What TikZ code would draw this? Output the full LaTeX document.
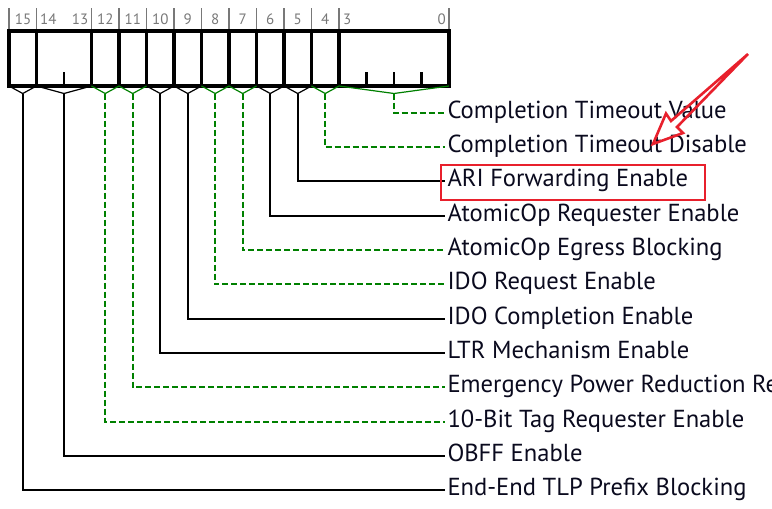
\documentclass[tikz,border=0pt]{standalone}
\usepackage{fontspec}
\setmainfont{PT Sans}
\definecolor{dgreen}{RGB}{0,128,0}
\definecolor{hlred}{RGB}{232,32,44}
\definecolor{numgray}{RGB}{120,120,120}
\definecolor{lbltext}{RGB}{10,10,30}
\begin{document}
\begin{tikzpicture}[x=1pt,y=-1pt,
  fieldbox/.style={draw=black,line width=3.2pt,inner sep=0pt,outer sep=0pt,minimum height=55pt},
  vblack/.style={draw=black,line width=1.2pt},
  vgreen/.style={draw=dgreen,line width=1.2pt},
  conblack/.style={draw=black,line width=2pt},
  congreen/.style={draw=dgreen,line width=2pt,dash pattern=on 6pt off 3pt},
  lbl/.style={anchor=base west,inner sep=0pt,outer xsep=2.5pt,font=\fontsize{24.6}{28}\selectfont,text=lbltext},
  bitnum/.style={anchor=base,inner sep=0pt,font=\fontsize{15}{17}\selectfont,text=numgray},
  sep/.style={draw=numgray,line width=1.6pt},
  tick/.style={draw=black,line width=2.2pt},
  redbox/.style={draw=hlred,line width=2.2pt,inner sep=0pt,minimum width=264pt,minimum height=35pt}
]
\useasboundingbox (0,0) rectangle (772,509);
% fields
\foreach \n/\l/\r in {15/9/36.5,14/36.5/91.5,12/91.5/119,11/119/146.5,10/146.5/174,9/174/201.5,8/201.5/229,7/229/256.5,6/256.5/284,5/284/311.5,4/311.5/339,3/339/449}{
  \pgfmathsetmacro\w{\r-\l}
  \pgfmathsetmacro\c{(\r+\l)/2}
  \node[fieldbox,minimum width=\w pt] (f\n) at (\c,58.5) {};
  \coordinate (v\n) at (\c,93.5);
}
% inner ticks
\foreach \x in {64,366.5,394,421.5}{
  \draw[tick] (\x,72) -- (\x,86);
}
% separators on top
\foreach \x in {9,36.5,91.5,119,146.5,174,201.5,229,256.5,284,311.5,339,449}{
  \draw[sep] (\x,8) -- (\x,29);
}
% bit numbers
\node[bitnum] (n15) at (23,24) {15};
\node[bitnum,anchor=base west] (n14) at (40,24) {14};
\node[bitnum,anchor=base east] (n13) at (88.5,24) {13};
\node[bitnum] (n12) at (105.25,24) {12};
\node[bitnum] (n11) at (132.75,24) {11};
\node[bitnum] (n10) at (160.25,24) {10};
\node[bitnum] (n9) at (187.75,24) {9};
\node[bitnum] (n8) at (215.25,24) {8};
\node[bitnum] (n7) at (242.75,24) {7};
\node[bitnum] (n6) at (270.25,24) {6};
\node[bitnum] (n5) at (297.75,24) {5};
\node[bitnum] (n4) at (325.25,24) {4};
\node[bitnum,anchor=base west] (n3) at (343,24) {3};
\node[bitnum,anchor=base east] (n0) at (446,24) {0};
% labels (baseline 5.5 below the connector row)
\node[lbl] (l3) at (445,118.3) {Completion Timeout Value};
\node[lbl] (l4) at (445,152.6) {Completion Timeout Disable};
\node[lbl] (l5) at (445,186.9) {ARI Forwarding Enable};
\node[lbl] (l6) at (445,221.2) {AtomicOp Requester Enable};
\node[lbl] (l7) at (445,255.5) {AtomicOp Egress Blocking};
\node[lbl] (l8) at (445,289.8) {IDO Request Enable};
\node[lbl] (l9) at (445,324.1) {IDO Completion Enable};
\node[lbl] (l10) at (445,358.4) {LTR Mechanism Enable};
\node[lbl] (l11) at (445,392.7) {Emergency Power Reduction Re};
\node[lbl] (l12) at (445,427) {10-Bit Tag Requester Enable};
\node[lbl] (l14) at (445,461.3) {OBFF Enable};
\node[lbl] (l15) at (445,495.6) {End-End TLP Prefix Blocking};
% V shapes and connectors
\foreach \n in {15,14,10,9,6,5}{
  \draw[vblack] (f\n.south west) -- (v\n) -- (f\n.south east);
  \draw[conblack] (v\n) |- ([yshift=5.5pt]l\n.base west);
}
\foreach \n in {12,11,8,7,4,3}{
  \draw[vgreen] (f\n.south west) -- (v\n) -- (f\n.south east);
  \draw[congreen] (v\n) |- ([yshift=5.5pt]l\n.base west);
}
% highlight
\node[redbox] (hl) at (573,182.8) {};
\draw[hlred,line width=2.6pt,line join=miter,miter limit=4]
  (748,54) -- (671,121) -- (666,113.5) -- (653,144) -- (683,133) -- (677,127) -- cycle;
\end{tikzpicture}
\end{document}
